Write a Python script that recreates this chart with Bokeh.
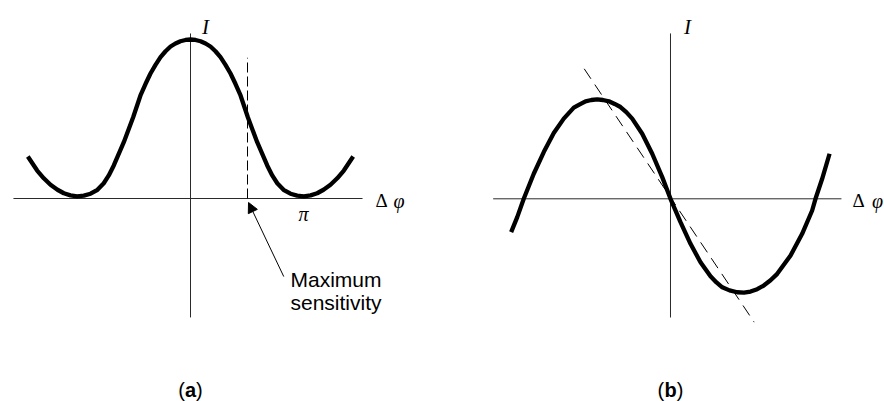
from bokeh.plotting import figure
from bokeh.layouts import row
from bokeh.models import Arrow, NormalHead
from bokeh.core.properties import value
from bokeh.embed import file_html
from bokeh.resources import INLINE

# (a) interference intensity versus phase difference (phase in units of pi)
a_phase = [-1.427, -1.345, -1.287, -1.228, -1.167, -1.111, -1.053, -0.994, -0.936,
           -0.877, -0.816, -0.761, -0.717, -0.673, -0.585, -0.503, -0.439, -0.395,
           -0.351, -0.307, -0.263, -0.219, -0.175, -0.132, -0.088, -0.044, 0.0,
           0.044, 0.088, 0.132, 0.175, 0.219, 0.263, 0.307, 0.351, 0.395, 0.439,
           0.503, 0.585, 0.673, 0.717, 0.761, 0.816, 0.877, 0.936, 0.994, 1.053,
           1.111, 1.167, 1.228, 1.287, 1.345, 1.427]
a_intensity = [0.264, 0.176, 0.127, 0.086, 0.055, 0.033, 0.020, 0.014, 0.018,
               0.030, 0.055, 0.096, 0.145, 0.208, 0.354, 0.511, 0.648, 0.720,
               0.786, 0.840, 0.889, 0.926, 0.956, 0.975, 0.989, 0.997, 1.000,
               0.997, 0.989, 0.975, 0.956, 0.926, 0.889, 0.840, 0.786, 0.720, 0.648,
               0.511, 0.354, 0.208, 0.145, 0.096, 0.055, 0.030, 0.018, 0.014, 0.020,
               0.033, 0.055, 0.086, 0.127, 0.176, 0.264]
a_marker_phase = 0.5          # quadrature point, pi/2
a_marker_top = 0.885
a_pi_tick = 1.0

# (b) biased response: odd curve through the origin
b_phase = [-1.099, -1.057, -1.012, -0.943, -0.874, -0.805, -0.736, -0.667, -0.626,
           -0.586, -0.546, -0.506, -0.466, -0.425, -0.385, -0.345, -0.305, -0.264,
           -0.195, -0.126, -0.057, 0.000, 0.069, 0.138, 0.207, 0.276, 0.317, 0.357,
           0.407, 0.460, 0.507, 0.552, 0.598, 0.643, 0.690, 0.736, 0.828, 0.908,
           0.977, 1.000, 1.046, 1.097]
b_signal = [-0.337, -0.185, 0.000, 0.253, 0.472, 0.664, 0.810, 0.921, 0.953,
            0.985, 0.998, 1.005, 0.998, 0.985, 0.958, 0.927, 0.876, 0.810,
            0.657, 0.455, 0.219, 0.000, -0.236, -0.455, -0.641, -0.783, -0.845, -0.894,
            -0.925, -0.944, -0.948, -0.937, -0.913, -0.876, -0.823, -0.758, -0.573, -0.354,
            -0.118, 0.000, 0.202, 0.455]
b_tangent_phase = [-0.595, 0.577]
b_tangent_signal = [1.313, -1.246]

SERIF = value("Liberation Serif")
SANS = value("Liberation Sans")
INK = "#000000"
AXIS = "#2a2a2a"


def blank(width, height, xr, yr):
    p = figure(width=width, height=height, x_range=xr, y_range=yr,
               x_axis_location=None, y_axis_location=None,
               toolbar_location=None, output_backend="svg",
               min_border=0, outline_line_color=None,
               background_fill_color="white", border_fill_color="white")
    p.grid.visible = False
    return p


# ---------------- panel (a) ----------------
pa = blank(442, 401, (-1.6667, 2.2105), (-1.2767, 1.2453))
pa.segment(x0=[-1.553, 0.0], y0=[0.0, -0.748], x1=[1.509, 0.0], y1=[0.0, 1.038],
           line_color=AXIS, line_width=1)
pa.segment(x0=[a_marker_phase], y0=[0.0], x1=[a_marker_phase], y1=[a_marker_top],
           line_color=INK, line_width=1, line_dash="10 4")
pa.line(a_phase, a_intensity, line_color=INK, line_width=4.3, line_join="round")

pa.text(x=[0.132], y=[1.08], text=["I"], text_font=SERIF, text_font_style="italic",
        text_font_size="21px", text_align="center", text_baseline="alphabetic",
        text_color=INK)
pa.text(x=[1.623], y=[-0.013], text=["Δ"], text_font=SERIF, text_font_size="19px",
        text_align="left", text_baseline="alphabetic", text_color=INK)
pa.text(x=[1.78], y=[-0.013], text=["φ"], text_font=SERIF, text_font_style="italic",
        text_font_size="20px", text_align="left", text_baseline="alphabetic",
        text_color=INK)
pa.text(x=[a_pi_tick * 0.991], y=[-0.095], text=["π"], text_font=SERIF,
        text_font_style="italic", text_font_size="20px", text_align="center",
        text_baseline="alphabetic", text_color=INK)
pa.text(x=[0.877, 0.877], y=[-0.51, -0.654], text=["Maximum", "sensitivity"],
        text_font=SANS, text_font_size="21px", text_align="left",
        text_baseline="alphabetic", text_color=INK)
pa.add_layout(Arrow(end=NormalHead(size=10, fill_color=INK, line_color=INK),
                    x_start=0.818, y_start=-0.491, x_end=0.509, y_end=-0.025,
                    line_color=INK, line_width=1))

# caption "(a)" with bold letter
pa.text(x=[-0.049], y=[-1.202], text=["("], text_font=SANS, text_font_size="20px",
        text_align="right", text_baseline="alphabetic", text_color=INK)
pa.text(x=[0.0], y=[-1.202], text=["a"], text_font=SANS, text_font_style="bold",
        text_font_size="20px", text_align="center", text_baseline="alphabetic",
        text_color=INK)
pa.text(x=[0.049], y=[-1.202], text=[")"], text_font=SANS, text_font_size="20px",
        text_align="left", text_baseline="alphabetic", text_color=INK)

# ---------------- panel (b) ----------------
pb = blank(442, 401, (-1.5724, 1.4759), (-2.0475, 2.003))
pb.segment(x0=[-1.223, 0.0], y0=[0.0, -1.199], x1=[1.179, 0.0], y1=[0.0, 1.670],
           line_color=AXIS, line_width=1)
pb.line(b_tangent_phase, b_tangent_signal, line_color=INK, line_width=1,
        line_dash="12 7")
pb.line(b_phase, b_signal, line_color=INK, line_width=4.3, line_join="round")

pb.text(x=[0.117], y=[1.74], text=["I"], text_font=SERIF, text_font_style="italic",
        text_font_size="21px", text_align="center", text_baseline="alphabetic",
        text_color=INK)
pb.text(x=[1.255], y=[-0.018], text=["Δ"], text_font=SERIF, text_font_size="19px",
        text_align="left", text_baseline="alphabetic", text_color=INK)
pb.text(x=[1.389], y=[-0.018], text=["φ"], text_font=SERIF, text_font_style="italic",
        text_font_size="20px", text_align="left", text_baseline="alphabetic",
        text_color=INK)

pb.text(x=[-0.043], y=[-1.927], text=["("], text_font=SANS, text_font_size="20px",
        text_align="right", text_baseline="alphabetic", text_color=INK)
pb.text(x=[0.0], y=[-1.927], text=["b"], text_font=SANS, text_font_style="bold",
        text_font_size="20px", text_align="center", text_baseline="alphabetic",
        text_color=INK)
pb.text(x=[0.043], y=[-1.927], text=[")"], text_font=SANS, text_font_size="20px",
        text_align="left", text_baseline="alphabetic", text_color=INK)

layout = row(pa, pb, spacing=0)
open("out.html", "w").write(file_html(layout, INLINE))
